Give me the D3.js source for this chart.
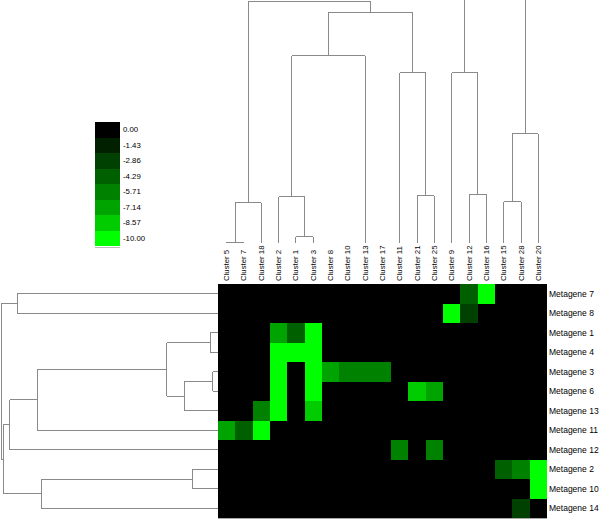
<!DOCTYPE html>
<html><head><meta charset="utf-8">
<script src="https://cdn.jsdelivr.net/npm/d3@7"></script>
<style>body{margin:0;background:#fff}text{font-family:"Liberation Sans",Arial,sans-serif;fill:#000}</style>
</head><body><svg id="c" width="600" height="520"></svg>
<script>
const clusters = ["Cluster 5","Cluster 7","Cluster 18","Cluster 2","Cluster 1","Cluster 3","Cluster 8","Cluster 10","Cluster 13","Cluster 17","Cluster 11","Cluster 21","Cluster 25","Cluster 9","Cluster 12","Cluster 16","Cluster 15","Cluster 28","Cluster 20"];
const metagenes = ["Metagene 7","Metagene 8","Metagene 1","Metagene 4","Metagene 3","Metagene 6","Metagene 13","Metagene 11","Metagene 12","Metagene 2","Metagene 10","Metagene 14"];
const values = [
 [0,0,0,0,0,0,0,0,0,0,0,0,0,0,-4.29,-10,0,0,0],
 [0,0,0,0,0,0,0,0,0,0,0,0,0,-10,-2.86,0,0,0,0],
 [0,0,0,-7.14,-4.29,-10,0,0,0,0,0,0,0,0,0,0,0,0,0],
 [0,0,0,-10,-10,-10,0,0,0,0,0,0,0,0,0,0,0,0,0],
 [0,0,0,-10,0,-10,-7.14,-5.71,-5.71,-5.71,0,0,0,0,0,0,0,0,0],
 [0,0,0,-10,0,-10,0,0,0,0,0,-8.57,-7.14,0,0,0,0,0,0],
 [0,0,-5.71,-10,0,-8.57,0,0,0,0,0,0,0,0,0,0,0,0,0],
 [-7.14,-4.29,-10,0,0,0,0,0,0,0,0,0,0,0,0,0,0,0,0],
 [0,0,0,0,0,0,0,0,0,0,-5.71,0,-5.71,0,0,0,0,0,0],
 [0,0,0,0,0,0,0,0,0,0,0,0,0,0,0,0,-4.29,-5.71,-10],
 [0,0,0,0,0,0,0,0,0,0,0,0,0,0,0,0,0,0,-10],
 [0,0,0,0,0,0,0,0,0,0,0,0,0,0,0,0,0,-2.86,0]
];
const legendValues = [0,-1.43,-2.86,-4.29,-5.71,-7.14,-8.57,-10];
const legendLabels = ["0.00","-1.43","-2.86","-4.29","-5.71","-7.14","-8.57","-10.00"];
const legendColors = ["#000000","#002000","#004000","#006000","#008200","#00a400","#00cc00","#00ff00"];

// dendrograms: merge heights (relative distance)
const colTrees = [
 {h:0.994, children:[
   {h:0.165, children:[{h:0.004, children:[{name:"Cluster 5"},{name:"Cluster 7"}]},{name:"Cluster 18"}]},
   {h:0.95, children:[
     {h:0.77, children:[
       {h:0.19, children:[{name:"Cluster 2"},{h:0.025, children:[{name:"Cluster 1"},{name:"Cluster 3"}]}]},
       {name:"Cluster 13"}]},
     {h:0.70, children:[{name:"Cluster 11"},{h:0.195, children:[{name:"Cluster 21"},{name:"Cluster 25"}]}]}
   ]}
 ]},
 {h:0.70, stub:true, children:[{name:"Cluster 9"},{h:0.20, children:[{name:"Cluster 12"},{name:"Cluster 16"}]}]},
 {h:0.45, stub:true, children:[{h:0.17, children:[{name:"Cluster 15"},{name:"Cluster 28"}]},{name:"Cluster 20"}]}
];
const rowTree = {h:0.994, children:[
 {h:0.92, children:[{name:"Metagene 7"},{name:"Metagene 8"}]},
 {h:0.985, children:[
   {h:0.955, children:[
     {h:0.83, children:[
       {h:0.235, children:[
         {h:0.036, children:[{name:"Metagene 1"},{name:"Metagene 4"}]},
         {h:0.155, children:[{h:0.025, children:[{name:"Metagene 3"},{name:"Metagene 6"}]},{name:"Metagene 13"}]}
       ]},
       {name:"Metagene 11"}]},
     {name:"Metagene 12"}]},
   {h:0.81, children:[{h:0.117, children:[{name:"Metagene 2"},{name:"Metagene 10"}]},{name:"Metagene 14"}]}
 ]}
]};

const svg = d3.select("#c");
const x = d3.scaleBand().domain(clusters).range([218, 547]);
const y = d3.scaleBand().domain(metagenes).range([284, 518]);
const color = d3.scaleOrdinal().domain(legendValues).range(legendColors);

// heatmap
const cells = [];
values.forEach((row, i) => row.forEach((v, j) => cells.push({r: metagenes[i], c: clusters[j], v})));
svg.append("rect").attr("x", 218).attr("y", 284).attr("width", 329).attr("height", 234).attr("fill", color(0));
svg.append("g").attr("shape-rendering", "crispEdges")
  .selectAll("rect").data(cells).join("rect")
  .attr("x", d => Math.round(x(d.c))).attr("y", d => Math.round(y(d.r)))
  .attr("width", d => Math.round(x(d.c) + x.bandwidth()) - Math.round(x(d.c)))
  .attr("height", d => Math.round(y(d.r) + y.bandwidth()) - Math.round(y(d.r)))
  .attr("fill", d => color(d.v));
svg.append("line").attr("x1", 218).attr("x2", 547).attr("y1", 518.5).attr("y2", 518.5)
  .attr("stroke", "#aaa").attr("stroke-width", 1);

// column labels
svg.append("g").selectAll("text").data(clusters).join("text")
  .attr("transform", d => `translate(${x(d) + x.bandwidth()/2},281) rotate(-90)`)
  .attr("dominant-baseline", "central")
  .attr("font-size", 7.8).text(d => d);

// row labels
svg.append("g").selectAll("text").data(metagenes).join("text")
  .attr("x", 549).attr("y", d => y(d) + y.bandwidth()/2)
  .attr("dominant-baseline", "central")
  .attr("font-size", 8.5).text(d => d);

// dendrogram helper
function layout(node, pos) {
  if (!node.children) { node.p = pos(node.name); node.h = 0; return node.p; }
  const ps = node.children.map(ch => layout(ch, pos));
  node.p = (ps[0] + ps[ps.length - 1]) / 2;
  return node.p;
}
const lineStyle = sel => sel.attr("stroke", "#8a8a8a").attr("stroke-width", 1).attr("fill", "none");

// column dendrogram
const hy = d3.scaleLinear().domain([0, 1]).range([243, 0]);
const gCol = svg.append("g").attr("shape-rendering", "crispEdges");
function drawCol(node) {
  if (!node.children) return;
  const yy = hy(node.h);
  lineStyle(gCol.append("line").attr("x1", node.children[0].p).attr("x2", node.children[node.children.length-1].p)
    .attr("y1", yy).attr("y2", yy));
  node.children.forEach(ch => {
    lineStyle(gCol.append("line").attr("x1", ch.p).attr("x2", ch.p).attr("y1", hy(ch.h)).attr("y2", yy));
    drawCol(ch);
  });
}
colTrees.forEach(t => {
  layout(t, n => x(n) + x.bandwidth()/2);
  drawCol(t);
  if (t.stub) lineStyle(gCol.append("line").attr("x1", t.p).attr("x2", t.p).attr("y1", hy(t.h)).attr("y2", 0));
});

// row dendrogram
const hx = d3.scaleLinear().domain([0, 1]).range([218, 0]);
const gRow = svg.append("g").attr("shape-rendering", "crispEdges");
function drawRow(node) {
  if (!node.children) return;
  const xx = hx(node.h);
  lineStyle(gRow.append("line").attr("y1", node.children[0].p).attr("y2", node.children[node.children.length-1].p)
    .attr("x1", xx).attr("x2", xx));
  node.children.forEach(ch => {
    lineStyle(gRow.append("line").attr("y1", ch.p).attr("y2", ch.p).attr("x1", hx(ch.h)).attr("x2", xx));
    drawRow(ch);
  });
}
layout(rowTree, n => y(n) + y.bandwidth()/2);
drawRow(rowTree);

// legend
const ly = d3.scaleBand().domain(legendValues).range([122, 246]);
const gL = svg.append("g");
gL.selectAll("rect").data(legendValues).join("rect")
  .attr("shape-rendering", "crispEdges")
  .attr("x", 95).attr("width", 25).attr("y", d => Math.round(ly(d)))
  .attr("height", d => Math.round(ly(d) + ly.bandwidth()) - Math.round(ly(d)))
  .attr("fill", d => color(d));
gL.selectAll("text").data(legendValues).join("text")
  .attr("x", 123).attr("y", d => ly(d) + ly.bandwidth()/2)
  .attr("dominant-baseline", "central").attr("font-size", 7.8)
  .text((d, i) => legendLabels[i]);
gL.append("line").attr("x1", 95).attr("x2", 120).attr("y1", 247.5).attr("y2", 247.5)
  .attr("stroke", "#bbb").attr("stroke-width", 1);
</script></body></html>
